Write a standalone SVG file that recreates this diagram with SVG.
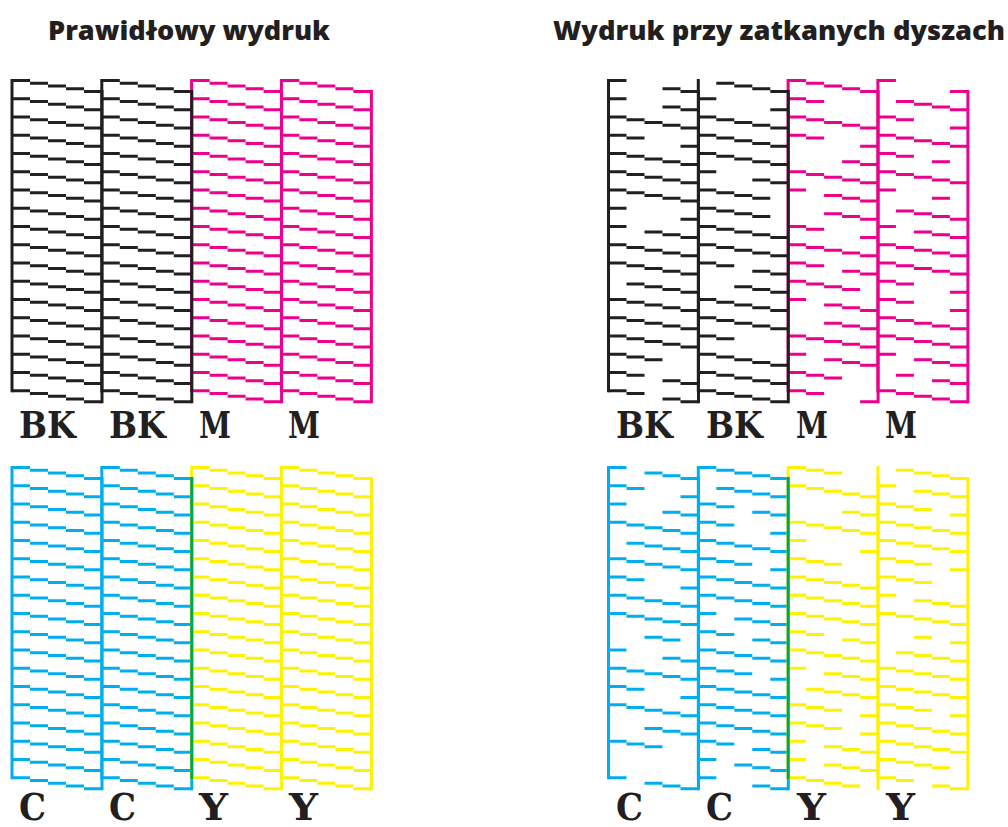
<svg xmlns="http://www.w3.org/2000/svg" xmlns:xlink="http://www.w3.org/1999/xlink" width="1008" height="827" viewBox="0 0 1008 827">
<style>
.blk{fill:none;stroke-width:3}
.k{stroke:#231f20}.m{stroke:#ec008c}.c{stroke:#00aeef}.y{stroke:#fff200}.g{stroke:#00a651;stroke-width:3;fill:none}
.lbl{font-family:"DejaVu Serif","Liberation Serif",serif;font-weight:bold;font-size:37px;fill:#231f20}
.ttl{font-family:"Open Sans","Liberation Sans",sans-serif;font-weight:800;font-size:27px;fill:#231f20}
</style>
<defs>
<path id="p11111" d="M0 0h18M18 2.75h18M36 5.5h18M54 8.25h18M72 11h18"/>
<path id="p10011" d="M0 0h18M54 8.25h18M72 11h18"/>
<path id="p11001" d="M0 0h18M18 2.75h18M72 11h18"/>
<path id="p10001" d="M0 0h18M72 11h18"/>
<path id="p10111" d="M0 0h18M36 5.5h18M54 8.25h18M72 11h18"/>
<path id="p01111" d="M18 2.75h18M36 5.5h18M54 8.25h18M72 11h18"/>
<path id="p11100" d="M0 0h18M18 2.75h18M36 5.5h18"/>
<path id="p11011" d="M0 0h18M18 2.75h18M54 8.25h18M72 11h18"/>
<path id="p11110" d="M0 0h18M18 2.75h18M36 5.5h18M54 8.25h18"/>
<path id="p00111" d="M36 5.5h18M54 8.25h18M72 11h18"/>
<path id="p11000" d="M0 0h18M18 2.75h18"/>
<path id="p00011" d="M54 8.25h18M72 11h18"/>
<path id="p11010" d="M0 0h18M18 2.75h18M54 8.25h18"/>
<path id="p10010" d="M0 0h18M54 8.25h18"/>
<path id="p01011" d="M18 2.75h18M54 8.25h18M72 11h18"/>
<path id="p00110" d="M36 5.5h18M54 8.25h18"/>
<path id="p11101" d="M0 0h18M18 2.75h18M36 5.5h18M72 11h18"/>
<path id="p00101" d="M36 5.5h18M72 11h18"/>
<path id="frame" d="M0 -1.5V311.75M90 9.5V322.75"/>
<g id="full">
<use href="#frame"/>
<use href="#p11111" y="0"/><use href="#p11111" y="18.25"/><use href="#p11111" y="36.5"/><use href="#p11111" y="54.75"/><use href="#p11111" y="73"/><use href="#p11111" y="91.25"/><use href="#p11111" y="109.5"/><use href="#p11111" y="127.75"/><use href="#p11111" y="146"/><use href="#p11111" y="164.25"/><use href="#p11111" y="182.5"/><use href="#p11111" y="200.75"/><use href="#p11111" y="219"/><use href="#p11111" y="237.25"/><use href="#p11111" y="255.5"/><use href="#p11111" y="273.75"/><use href="#p11111" y="292"/><use href="#p11111" y="310.25"/>
</g>
</defs>
<rect width="1008" height="827" fill="#fff"/>

<text class="ttl" x="48" y="40" textLength="282" lengthAdjust="spacingAndGlyphs">Prawidłowy wydruk</text>
<text class="ttl" x="553" y="40" textLength="452" lengthAdjust="spacingAndGlyphs">Wydruk przy zatkanych dyszach</text>

<!-- Left: correct print -->
<g id="ok-top">
<use id="ok-m1" class="blk m" href="#full" x="191.6" y="80.5"/>
<use id="ok-m2" class="blk m" href="#full" x="281.4" y="80.5"/>
<use id="ok-bk1" class="blk k" href="#full" x="12" y="80.5"/>
<use id="ok-bk2" class="blk k" href="#full" x="101.8" y="80.5"/>
</g>
<g id="ok-bottom">
<use id="ok-c1" class="blk c" href="#full" x="12" y="467.5"/>
<use id="ok-c2" class="blk c" href="#full" x="101.8" y="467.5"/>
<use id="ok-y1" class="blk y" href="#full" x="191.6" y="467.5"/>
<use id="ok-y2" class="blk y" href="#full" x="281.4" y="467.5"/>
<path class="g" d="M191.7 477V779.25"/>
</g>

<!-- Right: clogged nozzles -->
<g id="bad-top">
<g id="bad-m1" class="blk m" transform="translate(788.1,80.5)">
<use href="#frame"/>
<use href="#p11111" y="0"/><use href="#p11000" y="18.25"/><use href="#p11111" y="36.5"/><use href="#p11001" y="54.75"/><use href="#p00011" y="73"/><use href="#p11111" y="91.25"/><use href="#p10111" y="109.5"/><use href="#p00111" y="127.75"/><use href="#p11001" y="146"/><use href="#p11111" y="164.25"/><use href="#p11011" y="182.5"/><use href="#p11110" y="200.75"/><use href="#p10111" y="219"/><use href="#p00111" y="237.25"/><use href="#p11111" y="255.5"/><use href="#p10111" y="273.75"/><use href="#p11100" y="292"/><use href="#p11001" y="310.25"/>
</g>
<g id="bad-m2" class="blk m" transform="translate(877.9,80.5)">
<use href="#frame"/>
<use href="#p10001" y="0"/><use href="#p01111" y="18.25"/><use href="#p11001" y="36.5"/><use href="#p11111" y="54.75"/><use href="#p11010" y="73"/><use href="#p11111" y="91.25"/><use href="#p10010" y="109.5"/><use href="#p01111" y="127.75"/><use href="#p10111" y="146"/><use href="#p11111" y="164.25"/><use href="#p11111" y="182.5"/><use href="#p11001" y="200.75"/><use href="#p11001" y="219"/><use href="#p11111" y="237.25"/><use href="#p11111" y="255.5"/><use href="#p10111" y="273.75"/><use href="#p01011" y="292"/><use href="#p11111" y="310.25"/>
</g>
<g id="bad-bk1" class="blk k" transform="translate(608.5,80.5)">
<use href="#frame"/>
<use href="#p10011" y="0"/><use href="#p10011" y="18.25"/><use href="#p11111" y="36.5"/><use href="#p11001" y="54.75"/><use href="#p11111" y="73"/><use href="#p11111" y="91.25"/><use href="#p11111" y="109.5"/><use href="#p10001" y="127.75"/><use href="#p10111" y="146"/><use href="#p11111" y="164.25"/><use href="#p11111" y="182.5"/><use href="#p01111" y="200.75"/><use href="#p11111" y="219"/><use href="#p11111" y="237.25"/><use href="#p11111" y="255.5"/><use href="#p11100" y="273.75"/><use href="#p11011" y="292"/><use href="#p11011" y="310.25"/>
</g>
<g id="bad-bk2" class="blk k" transform="translate(698.3,80.5)">
<use href="#frame"/>
<use href="#p01111" y="0"/><use href="#p10001" y="18.25"/><use href="#p11111" y="36.5"/><use href="#p11111" y="54.75"/><use href="#p11111" y="73"/><use href="#p10011" y="91.25"/><use href="#p11110" y="109.5"/><use href="#p11110" y="127.75"/><use href="#p11111" y="146"/><use href="#p11111" y="164.25"/><use href="#p11011" y="182.5"/><use href="#p00111" y="200.75"/><use href="#p11111" y="219"/><use href="#p11111" y="237.25"/><use href="#p11000" y="255.5"/><use href="#p11111" y="273.75"/><use href="#p11111" y="292"/><use href="#p11111" y="310.25"/>
</g>
</g>

<g id="bad-bottom">
<g id="bad-c1" class="blk c" transform="translate(608.5,467.5)">
<use href="#frame"/>
<use href="#p10111" y="0"/><use href="#p11001" y="18.25"/><use href="#p10011" y="36.5"/><use href="#p11111" y="54.75"/><use href="#p01111" y="73"/><use href="#p11111" y="91.25"/><use href="#p11001" y="109.5"/><use href="#p11111" y="127.75"/><use href="#p11111" y="146"/><use href="#p00110" y="164.25"/><use href="#p10011" y="182.5"/><use href="#p11111" y="200.75"/><use href="#p11001" y="219"/><use href="#p11111" y="237.25"/><use href="#p00111" y="255.5"/><use href="#p11100" y="273.75"/><use href="#p10110" y="292"/><use href="#p10111" y="310.25"/>
</g>
<g id="bad-c2" class="blk c" transform="translate(698.3,467.5)">
<use href="#frame"/>
<use href="#p11111" y="0"/><use href="#p01111" y="18.25"/><use href="#p11011" y="36.5"/><use href="#p11001" y="54.75"/><use href="#p11111" y="73"/><use href="#p11101" y="91.25"/><use href="#p11111" y="109.5"/><use href="#p11111" y="127.75"/><use href="#p10111" y="146"/><use href="#p11011" y="164.25"/><use href="#p11111" y="182.5"/><use href="#p11101" y="200.75"/><use href="#p11111" y="219"/><use href="#p11111" y="237.25"/><use href="#p11111" y="255.5"/><use href="#p11011" y="273.75"/><use href="#p10111" y="292"/><use href="#p10011" y="310.25"/>
</g>
<g id="bad-y1" class="blk y" transform="translate(788.1,467.5)">
<use href="#frame"/>
<use href="#p11100" y="0"/><use href="#p11111" y="18.25"/><use href="#p00011" y="36.5"/><use href="#p11111" y="54.75"/><use href="#p10001" y="73"/><use href="#p11100" y="91.25"/><use href="#p11111" y="109.5"/><use href="#p11111" y="127.75"/><use href="#p11111" y="146"/><use href="#p11011" y="164.25"/><use href="#p11111" y="182.5"/><use href="#p10111" y="200.75"/><use href="#p01111" y="219"/><use href="#p11101" y="237.25"/><use href="#p11101" y="255.5"/><use href="#p10111" y="273.75"/><use href="#p10111" y="292"/><use href="#p11110" y="310.25"/>
</g>
<g id="bad-y2" class="blk y" transform="translate(877.9,467.5)">
<use href="#frame"/>
<use href="#p01111" y="0"/><use href="#p10111" y="18.25"/><use href="#p11101" y="36.5"/><use href="#p11111" y="54.75"/><use href="#p11111" y="73"/><use href="#p11101" y="91.25"/><use href="#p11100" y="109.5"/><use href="#p10111" y="127.75"/><use href="#p11111" y="146"/><use href="#p00101" y="164.25"/><use href="#p01111" y="182.5"/><use href="#p11111" y="200.75"/><use href="#p11111" y="219"/><use href="#p11101" y="237.25"/><use href="#p11111" y="255.5"/><use href="#p11111" y="273.75"/><use href="#p11110" y="292"/><use href="#p11011" y="310.25"/>
</g>
<path class="g" d="M788.2 477V779.25"/>
</g>

<g id="labels">
<text class="lbl" x="19" y="438" textLength="57" lengthAdjust="spacingAndGlyphs">BK</text>
<text class="lbl" x="109" y="438" textLength="57" lengthAdjust="spacingAndGlyphs">BK</text>
<text class="lbl" x="199" y="438" textLength="32" lengthAdjust="spacingAndGlyphs">M</text>
<text class="lbl" x="288" y="438" textLength="32" lengthAdjust="spacingAndGlyphs">M</text>
<text class="lbl" x="616" y="438" textLength="57" lengthAdjust="spacingAndGlyphs">BK</text>
<text class="lbl" x="706" y="438" textLength="57" lengthAdjust="spacingAndGlyphs">BK</text>
<text class="lbl" x="796" y="438" textLength="32" lengthAdjust="spacingAndGlyphs">M</text>
<text class="lbl" x="885" y="438" textLength="32" lengthAdjust="spacingAndGlyphs">M</text>
<text class="lbl" x="19" y="820" textLength="27" lengthAdjust="spacingAndGlyphs">C</text>
<text class="lbl" x="109" y="820" textLength="27" lengthAdjust="spacingAndGlyphs">C</text>
<text class="lbl" x="199" y="820" textLength="29" lengthAdjust="spacingAndGlyphs">Y</text>
<text class="lbl" x="289" y="820" textLength="29" lengthAdjust="spacingAndGlyphs">Y</text>
<text class="lbl" x="616" y="820" textLength="27" lengthAdjust="spacingAndGlyphs">C</text>
<text class="lbl" x="706" y="820" textLength="27" lengthAdjust="spacingAndGlyphs">C</text>
<text class="lbl" x="797" y="820" textLength="29" lengthAdjust="spacingAndGlyphs">Y</text>
<text class="lbl" x="886" y="820" textLength="29" lengthAdjust="spacingAndGlyphs">Y</text>
</g>
</svg>
